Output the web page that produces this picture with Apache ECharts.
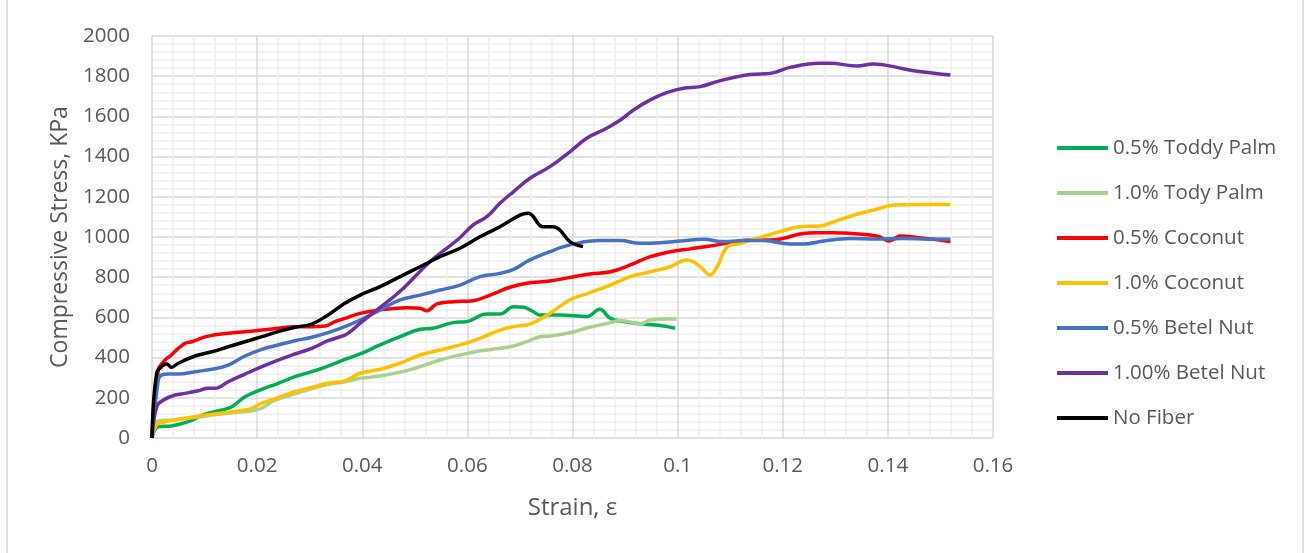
<!DOCTYPE html>
<html>
	<head>
		<meta charset="UTF-8">
		<title>Stress-strain</title>
		<style>
			html,body{margin:0;padding:0;background:#fff;}
		</style>
	</head>
	<body>
		<div id='chart' style="width:1308px;height:553px;"></div>
	</body>
	<script type="text/javascript" src="https://cdn.jsdelivr.net/npm/echarts@6/dist/echarts.min.js"></script>
	<script>
		// values (strain, stress in KPa)
		var names=['0.5% Toddy Palm','1.0% Tody Palm','0.5% Coconut','1.0% Coconut','0.5% Betel Nut','1.00% Betel Nut','No Fiber'];
		var colors=['#00b050','#a9d18e','#ff0000','#ffc000','#4472c4','#7030a0','#000000'];

		var toddy05X=[0,0.0012,0.0037,0.0069,0.0101,0.0133,0.0152,0.0177,0.0209,0.024,0.0272,0.0304,0.0335,0.0367,0.0396,0.0434,0.0472,0.051,0.0535,0.0573,0.0599,0.0637,0.0662,0.0688,0.0707,0.0726,0.0738,0.0776,0.0827,0.0852,0.0872,0.0897,0.0935,0.0973,0.0995];
		var toddy05Y=[0,56,60,81,119,139,156,205,242,272,305,330,358,391,418,463,504,541,546,574,579,617,617,653,650,628,612,612,604,640,595,579,567,557,546];

		var toddy10X=[0,0.0009,0.0037,0.0069,0.0114,0.0152,0.019,0.0209,0.0228,0.0253,0.0291,0.0329,0.0367,0.0396,0.0434,0.0485,0.051,0.0548,0.0586,0.0624,0.0662,0.0688,0.0713,0.0738,0.0757,0.0795,0.0833,0.0872,0.0891,0.091,0.0929,0.0948,0.0973,0.0998];
		var toddy10Y=[0,81,90,98,114,126,136,148,181,205,235,264,280,297,308,335,355,388,413,434,446,458,479,504,507,524,551,574,584,577,567,587,592,592];

		var coco05X=[0,0.0012,0.0025,0.0037,0.005,0.0063,0.0076,0.0088,0.0107,0.0145,0.0177,0.0209,0.024,0.0272,0.0304,0.0329,0.0348,0.0367,0.0396,0.0434,0.0485,0.051,0.0523,0.0542,0.0573,0.0611,0.0643,0.0681,0.0713,0.0757,0.0795,0.0833,0.0872,0.091,0.0948,0.0986,0.1024,0.1062,0.11,0.1138,0.1176,0.1201,0.1233,0.1265,0.1297,0.1328,0.1366,0.1385,0.1401,0.1411,0.1423,0.1455,0.1487,0.1519];
		var coco05Y=[0,338,388,413,446,471,479,491,507,521,529,537,546,554,554,557,579,595,620,637,648,645,633,667,678,683,711,750,770,781,799,816,827,861,902,927,941,955,972,985,985,993,1015,1021,1021,1018,1010,1001,980,989,1005,998,989,977];

		var coco10X=[0,0.0009,0.0025,0.005,0.0082,0.0114,0.0145,0.0177,0.019,0.0209,0.024,0.0272,0.0304,0.0335,0.0367,0.0396,0.0434,0.0472,0.051,0.0548,0.0586,0.0624,0.0662,0.0688,0.0719,0.0757,0.0795,0.0833,0.0872,0.091,0.0948,0.0986,0.1018,0.103,0.1043,0.1062,0.1075,0.1094,0.1119,0.1157,0.1195,0.1233,0.1271,0.1297,0.1341,0.1379,0.1411,0.1455,0.1519];
		var coco10Y=[0,65,81,93,106,118,128,139,148,173,201,230,252,272,284,322,342,372,413,438,463,496,537,554,567,620,687,723,761,803,827,852,886,877,852,811,852,949,969,998,1027,1051,1055,1076,1113,1138,1159,1162,1162];

		var betel05X=[0,0.0012,0.0018,0.0031,0.005,0.0082,0.0114,0.0145,0.0177,0.0209,0.024,0.0272,0.0304,0.0335,0.0367,0.0396,0.0434,0.0472,0.051,0.0548,0.0586,0.0624,0.0662,0.0688,0.0719,0.0757,0.0783,0.0814,0.0852,0.0891,0.0929,0.0967,0.1005,0.1049,0.1087,0.1125,0.1163,0.1214,0.124,0.1278,0.1328,0.1379,0.143,0.148,0.1519];
		var betel05Y=[0,289,313,318,318,330,342,363,408,441,463,484,501,524,554,587,637,687,711,736,761,803,819,839,886,927,952,972,982,982,969,972,980,989,977,982,982,965,965,980,993,990,993,989,989];

		var betel10X=[0,0.0009,0.0022,0.0044,0.0063,0.0088,0.0107,0.012,0.0145,0.0177,0.0209,0.024,0.0272,0.0304,0.0335,0.0367,0.0377,0.0396,0.0434,0.0472,0.0529,0.0583,0.0611,0.0637,0.0662,0.0688,0.0719,0.0757,0.0795,0.0827,0.0865,0.0891,0.0916,0.0948,0.0979,0.1011,0.1043,0.1081,0.1138,0.1176,0.1214,0.1271,0.129,0.1341,0.1373,0.1417,0.1449,0.1519];
		var betel10Y=[0,156,189,214,222,235,247,247,280,318,355,388,418,446,484,512,529,571,650,730,877,990,1060,1101,1168,1226,1292,1350,1424,1491,1541,1582,1632,1682,1718,1740,1748,1778,1809,1814,1844,1864,1864,1851,1861,1844,1827,1806];

		var noFiberX=[0,0.0009,0.0022,0.0028,0.0037,0.005,0.0082,0.0114,0.0145,0.0177,0.0209,0.024,0.0272,0.0304,0.0335,0.0367,0.0396,0.0434,0.0472,0.051,0.0548,0.0586,0.0624,0.0662,0.07,0.0716,0.0744,0.0763,0.0776,0.0795,0.082];
		var noFiberY=[0,323,363,368,352,372,408,429,454,479,504,529,551,567,612,670,711,753,803,852,902,944,1001,1051,1109,1118,1051,1051,1035,977,952];

		var xs=[toddy05X,toddy10X,coco05X,coco10X,betel05X,betel10X,noFiberX];
		var ys=[toddy05Y,toddy10Y,coco05Y,coco10Y,betel05Y,betel10Y,noFiberY];

		function pairs(a,b){
			var out=[];
			for(var i=0;i<a.length;i++){ out.push([a[i],b[i]]); }
			return out;
		}

		var font='"Open Sans", "Noto Sans", sans-serif';
		var series=[];
		for(var i=0;i<names.length;i++){
			series.push({
				name:names[i],
				type:'line',
				smooth:0.4,
				symbol:'none',
				lineStyle:{width:3.5,color:colors[i]},
				itemStyle:{color:colors[i]},
				data:pairs(xs[i],ys[i])
			});
		}

		var chart=echarts.init(document.getElementById('chart'));
		var option={
			animation:false,
			grid:{left:152,right:315,top:36,bottom:115},
			legend:{
				orient:'vertical',
				left:1052,
				top:131,
				icon:'rect',
				itemWidth:51,
				itemHeight:4,
				itemGap:21,
				textStyle:{color:'#595959',fontSize:20.5,lineHeight:24,fontFamily:font,padding:[0,0,0,0]},
				data:names
			},
			xAxis:{
				type:'value',
				min:0,max:0.16,interval:0.02,
				name:'Strain, ε',
				nameLocation:'middle',
				nameGap:58,
				nameTextStyle:{color:'#595959',fontSize:24,fontFamily:font},
				axisLine:{show:false},
				axisTick:{show:false},
				axisLabel:{color:'#595959',fontSize:20.5,fontFamily:font,margin:18,
					formatter:function(v){return String(+v.toFixed(2));}},
				splitLine:{show:true,lineStyle:{color:'#d9d9d9',width:1.5}},
				minorTick:{show:false,splitNumber:5},
				minorSplitLine:{show:true,lineStyle:{color:'#f0f0f0',width:1.5}}
			},
			yAxis:{
				type:'value',
				min:0,max:2000,interval:200,
				name:'Compressive Stress, KPa',
				nameLocation:'middle',
				nameGap:80,
				nameTextStyle:{color:'#595959',fontSize:23,fontFamily:font},
				axisLine:{show:false},
				axisTick:{show:false},
				axisLabel:{color:'#595959',fontSize:20.5,fontFamily:font,margin:22,
					formatter:function(v){return String(v);}},
				splitLine:{show:true,lineStyle:{color:'#d9d9d9',width:1.5}},
				minorTick:{show:false,splitNumber:5},
				minorSplitLine:{show:true,lineStyle:{color:'#f0f0f0',width:1.5}}
			},
			graphic:[
				{type:'rect',shape:{x:7,y:-5,width:1296,height:570},style:{fill:'none',stroke:'#d9d9d9',lineWidth:1.5},silent:true}
			],
			series:series
		};
		chart.setOption(option);
	</script>
</html>
